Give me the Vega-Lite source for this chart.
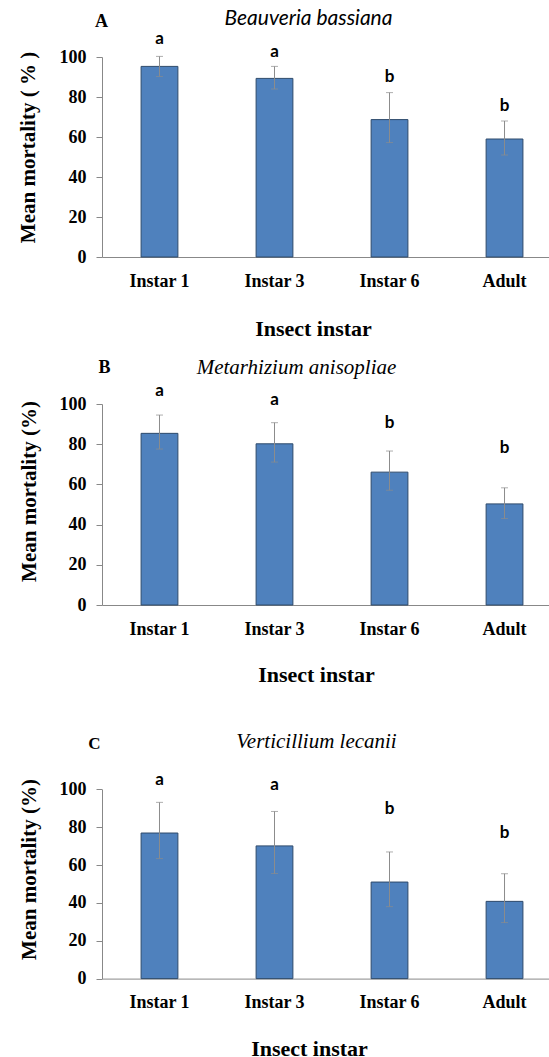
{
  "$schema": "https://vega.github.io/schema/vega-lite/v6.json",
  "padding": {"left": 17, "top": 8, "right": 0, "bottom": 0},
  "spacing": 147,
  "bounds": "flush",
  "datasets": {
    "A": [
      {"instar": "Instar 1", "mean": 95.3, "lower": 90.3, "upper": 100.3, "letter": "a", "label_y": 109},
      {"instar": "Instar 3", "mean": 89.3, "lower": 84, "upper": 95.3, "letter": "a", "label_y": 102.6},
      {"instar": "Instar 6", "mean": 68.7, "lower": 57.2, "upper": 82.2, "letter": "b", "label_y": 90},
      {"instar": "Adult", "mean": 59, "lower": 51, "upper": 68, "letter": "b", "label_y": 75.6}
    ],
    "B": [
      {"instar": "Instar 1", "mean": 85.4, "lower": 77.6, "upper": 94.5, "letter": "a", "label_y": 106.6},
      {"instar": "Instar 3", "mean": 80.2, "lower": 71.1, "upper": 90.7, "letter": "a", "label_y": 102},
      {"instar": "Instar 6", "mean": 66.1, "lower": 57.1, "upper": 76.6, "letter": "b", "label_y": 90.4},
      {"instar": "Adult", "mean": 50.3, "lower": 43, "upper": 58.3, "letter": "b", "label_y": 77.9}
    ],
    "C": [
      {"instar": "Instar 1", "mean": 76.9, "lower": 63.4, "upper": 93.1, "letter": "a", "label_y": 105},
      {"instar": "Instar 3", "mean": 70.1, "lower": 55.5, "upper": 88.3, "letter": "a", "label_y": 102.5},
      {"instar": "Instar 6", "mean": 51, "lower": 38, "upper": 66.9, "letter": "b", "label_y": 89.5},
      {"instar": "Adult", "mean": 40.8, "lower": 29.6, "upper": 55.4, "letter": "b", "label_y": 76.8}
    ]
  },
  "vconcat": [
    {
      "data": {"name": "A"},
      "width": 449,
      "height": 200,
      "title": {"text": "Beauveria bassiana", "frame": "group", "anchor": "middle", "dx": -18, "font": "Lato", "fontStyle": "italic", "fontWeight": "normal", "fontSize": 21, "color": "black", "baseline": "middle", "offset": -28},
      "resolve": {"axis": {"x": "independent", "y": "independent"}},
      "layer": [
        {
          "mark": {"type": "bar", "fill": "#4F81BD", "stroke": "#2E4A6B", "strokeWidth": 1},
          "encoding": {
            "x": {"field": "instar", "type": "nominal", "sort": ["Instar 1", "Instar 3", "Instar 6", "Adult"],
              "scale": {"paddingInner": 0.68, "paddingOuter": 0.292, "align": 0.582},
              "axis": {"orient": "bottom", "ticks": false, "labelAngle": 0, "labelFont": "Liberation Serif", "labelFontWeight": "bold", "labelFontSize": 18, "labelBaseline": "middle", "labelPadding": 24, "title": "Insect instar", "titleFont": "Liberation Serif", "titleFontWeight": "bold", "titleFontSize": 22, "titleX": 211, "titleY": 71, "titleBaseline": "middle", "titleAlign": "center"}},
            "y": {"field": "mean", "type": "quantitative", "scale": {"domain": [0, 100], "nice": false},
              "axis": {"orient": "left", "values": [0, 20, 40, 60, 80, 100], "tickSize": 6, "labelFont": "Liberation Serif", "labelFontWeight": "bold", "labelFontSize": 18, "labelPadding": 10, "title": "Mean mortality ( % )", "titleFont": "Liberation Serif", "titleFontWeight": "bold", "titleFontSize": 21, "titleX": -74, "titleY": 90, "titleBaseline": "middle", "titleAngle": 270, "titleAlign": "center"}}
          }
        },
        {
          "mark": {"type": "rule", "color": "#8C8C8C", "strokeWidth": 1},
          "encoding": {
            "x": {"field": "instar", "type": "nominal", "sort": ["Instar 1", "Instar 3", "Instar 6", "Adult"], "axis": null},
            "y": {"field": "lower", "type": "quantitative", "axis": null},
            "y2": {"field": "upper"}
          }
        },
        {
          "mark": {"type": "tick", "color": "#8C8C8C", "size": 7, "thickness": 1},
          "encoding": {
            "x": {"field": "instar", "type": "nominal", "sort": ["Instar 1", "Instar 3", "Instar 6", "Adult"], "axis": null},
            "y": {"field": "upper", "type": "quantitative", "axis": null}
          }
        },
        {
          "mark": {"type": "tick", "color": "#8C8C8C", "size": 7, "thickness": 1},
          "encoding": {
            "x": {"field": "instar", "type": "nominal", "sort": ["Instar 1", "Instar 3", "Instar 6", "Adult"], "axis": null},
            "y": {"field": "lower", "type": "quantitative", "axis": null}
          }
        },
        {
          "mark": {"type": "text", "font": "Lato", "fontWeight": "bold", "fontSize": 17, "baseline": "middle", "color": "black"},
          "encoding": {
            "x": {"field": "instar", "type": "nominal", "sort": ["Instar 1", "Instar 3", "Instar 6", "Adult"],
              "axis": {"orient": "top", "domain": false, "ticks": false, "labels": false, "title": "A", "titleFont": "Liberation Serif", "titleFontWeight": "bold", "titleFontSize": 18, "titleX": -1, "titleY": -36, "titleBaseline": "middle", "titleAlign": "center", "titleAngle": 0}},
            "y": {"field": "label_y", "type": "quantitative", "axis": null},
            "text": {"field": "letter"}
          }
        }
      ]
    },
    {
      "data": {"name": "B"},
      "width": 449,
      "height": 201,
      "title": {"text": "Metarhizium anisopliae", "frame": "group", "anchor": "middle", "dx": -30, "font": "Liberation Serif", "fontStyle": "italic", "fontWeight": "normal", "fontSize": 21, "color": "black", "baseline": "middle", "offset": -31},
      "resolve": {"axis": {"x": "independent", "y": "independent"}},
      "layer": [
        {
          "mark": {"type": "bar", "fill": "#4F81BD", "stroke": "#2E4A6B", "strokeWidth": 1},
          "encoding": {
            "x": {"field": "instar", "type": "nominal", "sort": ["Instar 1", "Instar 3", "Instar 6", "Adult"],
              "scale": {"paddingInner": 0.68, "paddingOuter": 0.292, "align": 0.582},
              "axis": {"orient": "bottom", "ticks": false, "labelAngle": 0, "labelFont": "Liberation Serif", "labelFontWeight": "bold", "labelFontSize": 18, "labelBaseline": "middle", "labelPadding": 24, "title": "Insect instar", "titleFont": "Liberation Serif", "titleFontWeight": "bold", "titleFontSize": 22, "titleX": 214, "titleY": 69, "titleBaseline": "middle", "titleAlign": "center"}},
            "y": {"field": "mean", "type": "quantitative", "scale": {"domain": [0, 100], "nice": false},
              "axis": {"orient": "left", "values": [0, 20, 40, 60, 80, 100], "tickSize": 6, "labelFont": "Liberation Serif", "labelFontWeight": "bold", "labelFontSize": 18, "labelPadding": 10, "title": "Mean mortality (%)", "titleFont": "Liberation Serif", "titleFontWeight": "bold", "titleFontSize": 21, "titleX": -73, "titleY": 87, "titleBaseline": "middle", "titleAngle": 270, "titleAlign": "center"}}
          }
        },
        {
          "mark": {"type": "rule", "color": "#8C8C8C", "strokeWidth": 1},
          "encoding": {
            "x": {"field": "instar", "type": "nominal", "sort": ["Instar 1", "Instar 3", "Instar 6", "Adult"], "axis": null},
            "y": {"field": "lower", "type": "quantitative", "axis": null},
            "y2": {"field": "upper"}
          }
        },
        {
          "mark": {"type": "tick", "color": "#8C8C8C", "size": 7, "thickness": 1},
          "encoding": {
            "x": {"field": "instar", "type": "nominal", "sort": ["Instar 1", "Instar 3", "Instar 6", "Adult"], "axis": null},
            "y": {"field": "upper", "type": "quantitative", "axis": null}
          }
        },
        {
          "mark": {"type": "tick", "color": "#8C8C8C", "size": 7, "thickness": 1},
          "encoding": {
            "x": {"field": "instar", "type": "nominal", "sort": ["Instar 1", "Instar 3", "Instar 6", "Adult"], "axis": null},
            "y": {"field": "lower", "type": "quantitative", "axis": null}
          }
        },
        {
          "mark": {"type": "text", "font": "Lato", "fontWeight": "bold", "fontSize": 17, "baseline": "middle", "color": "black"},
          "encoding": {
            "x": {"field": "instar", "type": "nominal", "sort": ["Instar 1", "Instar 3", "Instar 6", "Adult"],
              "axis": {"orient": "top", "domain": false, "ticks": false, "labels": false, "title": "B", "titleFont": "Liberation Serif", "titleFontWeight": "bold", "titleFontSize": 18, "titleX": 2, "titleY": -37, "titleBaseline": "middle", "titleAlign": "center", "titleAngle": 0}},
            "y": {"field": "label_y", "type": "quantitative", "axis": null},
            "text": {"field": "letter"}
          }
        }
      ]
    },
    {
      "data": {"name": "C"},
      "width": 449,
      "height": 226.6,
      "title": {"text": "Verticillium lecanii", "frame": "group", "anchor": "middle", "dx": -10, "font": "Liberation Serif", "fontStyle": "italic", "fontWeight": "normal", "fontSize": 21, "color": "black", "baseline": "middle", "offset": -29},
      "resolve": {"axis": {"x": "independent", "y": "independent"}},
      "layer": [
        {
          "mark": {"type": "bar", "fill": "#4F81BD", "stroke": "#2E4A6B", "strokeWidth": 1},
          "encoding": {
            "x": {"field": "instar", "type": "nominal", "sort": ["Instar 1", "Instar 3", "Instar 6", "Adult"],
              "scale": {"paddingInner": 0.68, "paddingOuter": 0.292, "align": 0.582},
              "axis": {"orient": "bottom", "ticks": false, "labelAngle": 0, "labelFont": "Liberation Serif", "labelFontWeight": "bold", "labelFontSize": 18, "labelBaseline": "middle", "labelPadding": 24, "title": "Insect instar", "titleFont": "Liberation Serif", "titleFontWeight": "bold", "titleFontSize": 22, "titleX": 207, "titleY": 70, "titleBaseline": "middle", "titleAlign": "center"}},
            "y": {"field": "mean", "type": "quantitative", "scale": {"domain": [0, 100], "nice": false, "range": [226.6, 37.3]},
              "axis": {"orient": "left", "values": [0, 20, 40, 60, 80, 100], "tickSize": 6, "labelFont": "Liberation Serif", "labelFontWeight": "bold", "labelFontSize": 18, "labelPadding": 10, "title": "Mean mortality (%)", "titleFont": "Liberation Serif", "titleFontWeight": "bold", "titleFontSize": 21, "titleX": -73, "titleY": 117, "titleBaseline": "middle", "titleAngle": 270, "titleAlign": "center"}}
          }
        },
        {
          "mark": {"type": "rule", "color": "#8C8C8C", "strokeWidth": 1},
          "encoding": {
            "x": {"field": "instar", "type": "nominal", "sort": ["Instar 1", "Instar 3", "Instar 6", "Adult"], "axis": null},
            "y": {"field": "lower", "type": "quantitative", "axis": null},
            "y2": {"field": "upper"}
          }
        },
        {
          "mark": {"type": "tick", "color": "#8C8C8C", "size": 7, "thickness": 1},
          "encoding": {
            "x": {"field": "instar", "type": "nominal", "sort": ["Instar 1", "Instar 3", "Instar 6", "Adult"], "axis": null},
            "y": {"field": "upper", "type": "quantitative", "axis": null}
          }
        },
        {
          "mark": {"type": "tick", "color": "#8C8C8C", "size": 7, "thickness": 1},
          "encoding": {
            "x": {"field": "instar", "type": "nominal", "sort": ["Instar 1", "Instar 3", "Instar 6", "Adult"], "axis": null},
            "y": {"field": "lower", "type": "quantitative", "axis": null}
          }
        },
        {
          "mark": {"type": "text", "font": "Lato", "fontWeight": "bold", "fontSize": 17, "baseline": "middle", "color": "black"},
          "encoding": {
            "x": {"field": "instar", "type": "nominal", "sort": ["Instar 1", "Instar 3", "Instar 6", "Adult"],
              "axis": {"orient": "top", "domain": false, "ticks": false, "labels": false, "title": "C", "titleFont": "Liberation Serif", "titleFontWeight": "bold", "titleFontSize": 17, "titleX": -8, "titleY": -9, "titleBaseline": "middle", "titleAlign": "center", "titleAngle": 0}},
            "y": {"field": "label_y", "type": "quantitative", "axis": null},
            "text": {"field": "letter"}
          }
        }
      ]
    }
  ],
  "config": {
    "view": {"stroke": null},
    "axis": {"domainColor": "#888888", "tickColor": "#888888", "labelColor": "black", "titleColor": "black", "grid": false}
  }
}
